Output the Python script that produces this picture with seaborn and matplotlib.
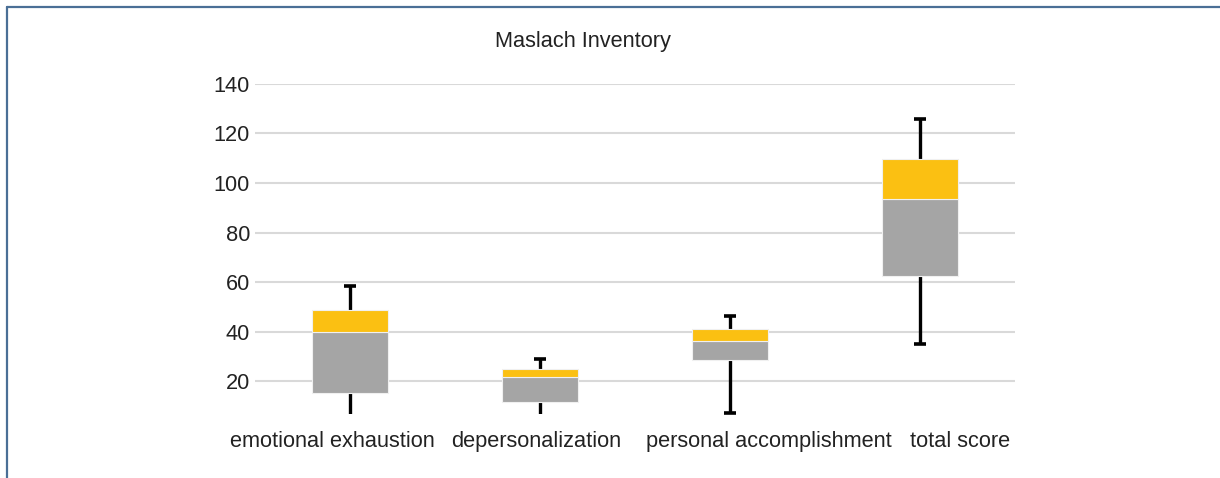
import numpy as np
import pandas as pd
import matplotlib.pyplot as plt
import matplotlib.transforms as mtransforms
import seaborn as sns
from matplotlib.lines import Line2D

# Maslach Inventory box plot (Excel style: stacked bars + error-bar whiskers)
categories = ["emotional exhaustion", "depersonalization",
              "personal accomplishment", "total score"]
whisker_low = [3, 4, 7.2, 35]
q1 = [15.1, 11.6, 28.6, 62.5]
median = [39.8, 21.5, 36.3, 93.4]
q3 = [48.8, 24.8, 41.0, 109.6]
whisker_high = [58.2, 28.8, 46.4, 125.9]
yticks = [20, 40, 60, 80, 100, 120, 140]

GRAY = "#a5a5a5"
GOLD = "#fbc012"
TEXT = "#222222"

df = pd.DataFrame({
    "category": categories,
    "q1": q1,
    "median": median,
    "q3": q3,
    "low": whisker_low,
    "high": whisker_high,
})
df["lower_box"] = df["median"] - df["q1"]
df["upper_box"] = df["q3"] - df["median"]

sns.set_style("white")
plt.rcParams["font.family"] = ["Liberation Sans", "DejaVu Sans"]

fig = plt.figure(figsize=(12.2, 4.78), dpi=100)
ax = fig.add_axes([0.209, 0.1339, 0.623, 0.6904])

# whiskers: one errorbar from low to high, boxes drawn over the middle
pos = np.arange(len(categories))
ax.errorbar(pos, df["median"],
            yerr=[df["median"] - df["low"], df["high"] - df["median"]],
            fmt="none", ecolor="black", elinewidth=2.4,
            capsize=4, capthick=2.6, zorder=1.5)

sns.barplot(data=df, x="category", y="lower_box", bottom=df["q1"],
            color=GRAY, width=0.4, errorbar=None, ax=ax, zorder=2,
            edgecolor="#f0f0f0", linewidth=0.8, saturation=1)
sns.barplot(data=df, x="category", y="upper_box", bottom=df["median"],
            color=GOLD, width=0.4, errorbar=None, ax=ax, zorder=2,
            edgecolor="#f0f0f0", linewidth=0.8, saturation=1)

ax.set_xlim(-0.5, len(categories) - 0.5)
ax.set_ylim(6.7, 140)
ax.set_yticks(yticks)
ax.set_yticklabels([str(t) for t in yticks])
ax.yaxis.grid(True, color="#d9d9d9", linewidth=1.5)
ax.set_axisbelow(True)
ax.tick_params(axis="y", length=0, pad=3.6, labelsize=15.7, labelcolor=TEXT)
ax.tick_params(axis="x", length=0, pad=12, labelsize=15.7, labelcolor=TEXT)
ax.set_xlabel("")
ax.set_ylabel("")
for s in ax.spines.values():
    s.set_visible(False)

# Excel nudged the category labels sideways so they don't collide
label_shift_px = [-17.5, -3.7, 38.7, 40.3]
for lab, dx in zip(ax.get_xticklabels(), label_shift_px):
    off = mtransforms.ScaledTranslation(dx / 100, 0, fig.dpi_scale_trans)
    lab.set_transform(lab.get_transform() + off)

fig.text(0.478, 0.9128, "Maslach Inventory", ha="center", va="center",
         fontsize=15.7, color=TEXT)

# frame lines at left and top edge of the panel
border = "#4a6f96"
fig.add_artist(Line2D([7 / 1220, 7 / 1220], [0, 1 - 7 / 478],
                      transform=fig.transFigure, color=border, linewidth=1.6))
fig.add_artist(Line2D([7 / 1220, 1], [1 - 7 / 478, 1 - 7 / 478],
                      transform=fig.transFigure, color=border, linewidth=1.6))

fig.savefig("out.png", dpi=100)
